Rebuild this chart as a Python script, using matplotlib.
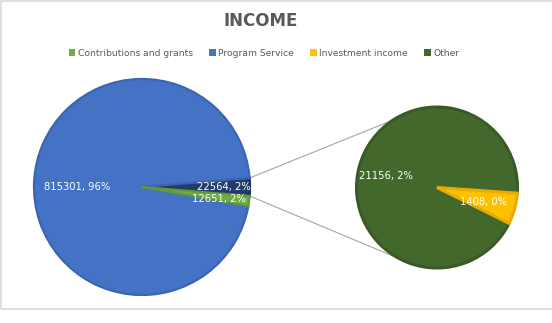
import matplotlib.pyplot as plt
import numpy as np
from matplotlib.patches import Patch, Rectangle

# Income breakdown
main_labels = ['Other', 'Program Service', 'Contributions and grants']
main_values = [22564, 815301, 12651]
main_pcts = ['2%', '96%', '2%']
main_colors = ['#233d6b', '#4472c4', '#70ad47']
main_edges = ['#1d3359', '#3b65b3', '#62993d']

sub_labels = ['Other', 'Investment income']
sub_values = [21156, 1408]
sub_pcts = ['2%', '0%']
sub_colors = ['#43682b', '#ffc000']
sub_edges = ['#3a5a25', '#e6ac00']

legend_labels = ['Contributions and grants', 'Program Service', 'Investment income', 'Other']
legend_colors = ['#70ad47', '#4472c4', '#ffc000', '#43682b']

W, H = 552, 323
fig = plt.figure(figsize=(W / 100, H / 100), dpi=100)
ax = fig.add_axes([0, 0, 1, 1])

# pixel-like coordinates, y measured upward
main_c, main_r = (142, H - 187), 108
sub_c, sub_r = (437, H - 187.5), 80.5

# composite slice centred on the right side of the main pie
half = main_values[0] / sum(main_values) * 360 / 2
wm, _ = ax.pie(main_values, colors=main_colors, startangle=-half, center=main_c,
               radius=main_r, frame=True,
               wedgeprops=dict(linewidth=1.6, antialiased=True))
for w, ec in zip(wm, main_edges):
    w.set_edgecolor(ec)

ws, _ = ax.pie(sub_values, colors=sub_colors, startangle=-4, center=sub_c,
               radius=sub_r, frame=True,
               wedgeprops=dict(linewidth=2.2))
for w, ec in zip(ws, sub_edges):
    w.set_edgecolor(ec)


def label(wedge, text, frac, c, r, dang=0.0):
    ang = np.deg2rad((wedge.theta1 + wedge.theta2) / 2 + dang)
    x = c[0] + frac * r * np.cos(ang)
    y = c[1] + frac * r * np.sin(ang)
    ax.text(x, y, text, color='white', fontsize=7.2, ha='center', va='center')


label(wm[1], f'{main_values[1]}, {main_pcts[1]}', 0.6, main_c, main_r, 2.7)
label(wm[0], f'{main_values[0]}, {main_pcts[0]}', 0.76, main_c, main_r)
label(wm[2], f'{main_values[2]}, {main_pcts[2]}', 0.72, main_c, main_r, -1.2)
label(ws[0], f'{sub_values[0]}, {sub_pcts[0]}', 0.65, sub_c, sub_r, 3)
label(ws[1], f'{sub_values[1]}, {sub_pcts[1]}', 0.6, sub_c, sub_r, -2)

# connector lines from the composite slice to the second pie
for a_main, a_sub in [(wm[0].theta2, 123), (wm[0].theta1, -117.5)]:
    p0 = (main_c[0] + main_r * np.cos(np.deg2rad(a_main)),
          main_c[1] + main_r * np.sin(np.deg2rad(a_main)))
    p1 = (sub_c[0] + sub_r * np.cos(np.deg2rad(a_sub)),
          sub_c[1] + sub_r * np.sin(np.deg2rad(a_sub)))
    ax.plot([p0[0], p1[0]], [p0[1], p1[1]], color='#a6a6a6', lw=0.8, zorder=0)

ax.set_xlim(0, W)
ax.set_ylim(0, H)
ax.set_aspect('equal')
ax.axis('off')

# chart border
ax.add_patch(Rectangle((0.5, H - 309), W + 5, 308, fill=False,
                       edgecolor='#d9d9d9', lw=1.2))

ax.text(261, H - 21, 'INCOME', fontsize=12, fontweight='bold',
        color='#595959', ha='center', va='center')

handles = [Patch(facecolor=c, edgecolor='none') for c in legend_colors]
fig.legend(handles, legend_labels, loc='center', bbox_to_anchor=(264 / W, 1 - 53 / H),
           ncol=4, frameon=False, fontsize=6.6, handlelength=0.75, handleheight=0.75,
           handletextpad=0.3, columnspacing=1.7, labelcolor='#595959')

fig.savefig('out.png', dpi=100)
